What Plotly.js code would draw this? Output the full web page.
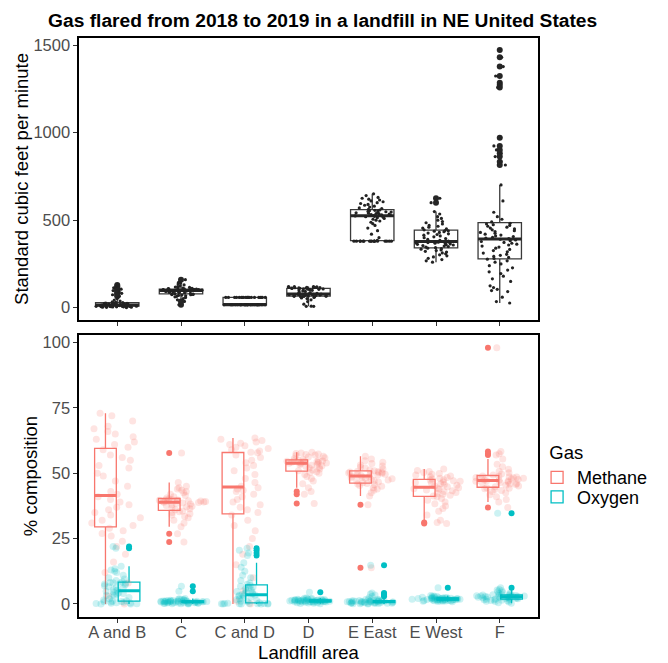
<!DOCTYPE html>
<html><head><meta charset="utf-8">
<script src="https://cdn.plot.ly/plotly-3.0.1.min.js"></script>
<style>html,body{margin:0;padding:0;background:#fff}#chart{width:668px;height:663px}</style>
</head><body><div id="chart"></div>
<script>
const areas = ["A and B","C","C and D","D","E East","E West","F"];

// Standard cubic feet per minute (top panel)
const flowAB = [1,2,3,3,4,4,5,5,6,6,7,7,7,8,8, 9,9,10,10,11,11,12,12,13,13,14,14,15,15,15, 16,17,18,19,20,21,22,23,24,25,25,26,27,27,28, 29,31,34,38,44,52,66,74,82,90,98,106,114,122,130];
const flowC = [17,36,45,52,58,62,65,68,70,72,74,75,76,77,78, 80,82,84,86,88,89,90,91,92,93,94,95,96,97,98, 98,99,99,100,100,101,101,102,102,103,103,104,104,105,106, 107,108,109,110,112,114,116,118,121,125,130,135,140,145,160];
const flowCD = [17,17,17,17,17,17,17,17,17,17,17,17,17,17,17,17,17,17,17,17,17,17,17,17,17,17,17,17, 59,59,59,59,59,59,59,59,59,59,59,59,59,59,59,59,59,59,59,59];
const flowD = [8,8,9,20,35,45,52,56,59,61,62,63,64,65,66, 67,68,69,70,71,72,72,73,74,74,75,76,76,77,78, 80,82,84,87,90,93,96,99,101,103,105,106,107,108,110, 111,112,112,113,114,114,115,116,116,117,118,119,120,121,121];
const flowEE = [380,380,380,380,380,380,380,380,380,380,380,380,380,380,380,380,380, 385,400,420,440,455,470,480,488,495,500,505,510,514,517,520,522,524, 526,528,530,532,534,536,538,540,542,544,546,548,550,552,554,556,558, 562,566,570,575,580,585,590,595,600,605,610,615,620,625,630,640,650];
const flowEW = [260,268,275,282,290,296,302,308,313,318,322,326,330,334,337,340, 343,346,349,352,355,358,360,362,364,366,368,370,372,374,375,376, 380,385,390,395,400,405,410,414,418,422,426,430,434,437,439,441, 445,450,455,460,465,470,478,485,492,500,510,520,535,549,600,625];
const flowF = [27,35,60,92,98,105,115,125,150,165,180,195,205,215,228,240,250,260,268,277, 281,287,293,299,305,312,319,326,333,340,346,352,358,363,368,373,378,383,387,391, 394,398,402,406,410,415,420,425,430,435,440,445,450,455,460,465,470,474,478,482, 490,505,520,545,610,701,815,834,863,882,901,924,971,1258,1271,1285,1323,1377,1430,1471];

// % composition, methane (bottom panel)
const methaneAB = [0,3,8,12,16,19,22,24,26,27,28,29, 30,31,32,33,34,35,36,37,38,39,40,41, 42,43,45,47,49,50,52,53,55,56,57,59, 60,61,62,63,64,65,66,67,68,70,72,73];
const methaneC = [23.7,26.9,29.5,31,32,33,33.5,34,34.5,35,35.3,35.6, 36,36.4,36.8,37.1,37.4,37.7,38,38.2,38.4,38.6,38.8,38.9, 39,39.1,39.2,39.3,39.4,39.5,39.6,39.7,39.8,39.9,40,40.2, 40.5,41,41.5,42,42.5,43,43.5,44,44.5,45,46.5,57.8];
const methaneCD = [0,1,5,10,15,19,22,25,28,30,32,34, 35,36,37,38,39,40,41,42,43,43.5,44,44.5, 45,46.5,48,49.5,51,52,53,54,55,56,57,57.9, 58,58.5,59,59.5,60,60.5,61,61.5,62,62.5,63,63.5];
const methaneD = [38.4,42,43,44.5,46,47,48,48.8,49.5,50,50.3,50.6, 51,51.3,51.6,52,52.3,52.6,52.9,53.1,53.3,53.5,53.7,53.8, 53.9,54,54.1,54.2,54.3,54.4,54.5,54.6,54.7,54.8,54.9,55, 55.3,55.6,55.9,56.2,56.5,56.8,57,57.2,57.4,57.6,57.8,58];
const methaneEE = [13.8,38,41.3,42.5,43.5,44,44.5,45,45.3,45.6,45.9,46.1, 46.4,46.7,47,47.2,47.4,47.7,47.9,48.1,48.3,48.5,48.7,48.9, 49.1,49.3,49.5,49.6,49.8,50,50.1,50.3,50.4,50.5,50.7,50.8, 51,51.3,51.6,52,52.4,52.8,53.2,53.7,54.2,54.8,55.5,56.5];
const methaneEW = [30.8,31.2,32,34,35.5,36.5,37.5,38.3,39,39.7,40.3,41, 41.3,41.6,42,42.3,42.6,43,43.3,43.6,43.9,44.1,44.3,44.5, 44.8,45.1,45.4,45.7,46,46.3,46.5,46.7,46.9,47.1,47.3,47.5, 47.8,48.1,48.4,48.7,49,49.3,49.6,49.9,50.3,50.7,51.1,51.6];
const methaneF = [36.9,39,40,41,41.8,42.5,43,43.4,43.8,44.1,44.3,44.5, 44.8,45.1,45.4,45.7,45.9,46.1,46.3,46.5,46.7,46.9,47,47.1, 47.3,47.4,47.6,47.8,47.9,48.1,48.3,48.4,48.6,48.7,48.9,49, 49.3,49.7,50.2,50.8,51.5,52.5,53.5,55.5,57,57.5,58.3,98];

// % composition, oxygen (bottom panel)
const oxygenAB = [0,0,0.1,0.2,0.3,0.4,0.5,0.6,0.7,0.8,0.9,1.0, 1.2,1.5,2,2.5,3,3.2,3.5,3.8,4,4.3,4.6,4.9, 5.2,5.5,6,6.3,6.6,7,7.3,7.6,7.9,8,8.1,8.2, 8.5,9,9.5,10,11,12,12.5,13,13.5,14.4,21.3,22];
const oxygenC = [0,0.1,0.1,0.2,0.2,0.3,0.3,0.3,0.4,0.4,0.4,0.5, 0.5,0.5,0.6,0.6,0.6,0.7,0.7,0.7,0.7,0.8,0.8,0.8, 0.8,0.9,0.9,0.9,1.0,1.0,1.0,1.0,1.1,1.1,1.1,1.2, 1.2,1.3,1.3,1.4,1.5,1.6,1.7,1.8,2.0,2.1,4.9,6.8];
const oxygenCD = [0,0,0,0,0.1,0.1,0.1,0.2,0.2,0.2,0.2,0.3, 0.5,0.8,1,1.3,1.6,2,2.3,2.6,2.9,3.1,3.3,3.4, 3.6,3.9,4.2,4.5,4.8,5.1,5.4,5.8,6.2,6.5,6.8,7.1, 7.5,8,9,10,11,12.5,14,15.8,18.5,19.5,20.5,21.3];
const oxygenD = [0.1,0.2,0.3,0.4,0.5,0.5,0.6,0.6,0.7,0.7,0.8,0.8, 0.8,0.9,0.9,0.9,1.0,1.0,1.0,1.0,1.1,1.1,1.1,1.1, 1.2,1.2,1.2,1.3,1.3,1.3,1.4,1.4,1.4,1.5,1.5,1.5, 1.6,1.6,1.7,1.7,1.8,1.8,1.9,2.0,2.1,2.2,2.3,4.5];
const oxygenEE = [0,0.1,0.1,0.2,0.2,0.3,0.3,0.3,0.4,0.4,0.4,0.5, 0.5,0.5,0.6,0.6,0.6,0.7,0.7,0.7,0.8,0.8,0.8,0.9, 0.9,0.9,1.0,1.0,1.0,1.1,1.1,1.1,1.2,1.2,1.2,1.3, 1.3,1.4,1.5,1.6,1.7,1.8,2.4,2.9,3.4,3.8,4.2,14.8];
const oxygenEW = [0.8,0.9,1.0,1.0,1.1,1.1,1.2,1.2,1.3,1.3,1.4,1.4, 1.5,1.5,1.5,1.6,1.6,1.6,1.7,1.7,1.7,1.8,1.8,1.8, 1.9,1.9,1.9,2.0,2.0,2.0,2.1,2.1,2.1,2.2,2.2,2.3, 2.3,2.4,2.4,2.5,2.5,2.6,2.7,2.8,2.9,3.0,3.2,6.2];
const oxygenF = [0.3,0.5,0.7,0.9,1.0,1.2,1.3,1.4,1.5,1.6,1.7,1.8, 1.9,2.0,2.1,2.2,2.2,2.3,2.4,2.4,2.5,2.6,2.6,2.7, 2.8,2.8,2.9,2.9,3.0,3.0,3.1,3.1,3.2,3.2,3.3,3.4, 3.5,3.6,3.8,4.0,4.2,4.4,4.7,5.0,5.3,5.5,6.2,34.7];

const flowGroups = [flowAB, flowC, flowCD, flowD, flowEE, flowEW, flowF];
const methaneGroups = [methaneAB, methaneC, methaneCD, methaneD, methaneEE, methaneEW, methaneF];
const oxygenGroups = [oxygenAB, oxygenC, oxygenCD, oxygenD, oxygenEE, oxygenEW, oxygenF];

function flatten(groups) {
  const x = [], y = [];
  groups.forEach((vals, i) => vals.forEach(v => { x.push(areas[i]); y.push(v); }));
  return {x, y};
}
function median(vals) {
  const s = vals.slice().sort((a, b) => a - b);
  const n = s.length, h = Math.floor(n / 2);
  return n % 2 ? s[h] : (s[h - 1] + s[h]) / 2;
}
const flow = flatten(flowGroups);
const meth = flatten(methaneGroups);
const oxy = flatten(oxygenGroups);
const flowMed = flowGroups.map(median);
const methMed = methaneGroups.map(median);
const oxyMed = oxygenGroups.map(median);

const RED = '#F8766D', TEAL = '#00BFC4';
const FONT = '"Liberation Sans", Arial, Helvetica, sans-serif';
const CLEAR = 'rgba(0,0,0,0)';

function boxTrace(d, xa, ya, name, color, lineColor, ag, og, extra) {
  return Object.assign({type:'box', x:d.x, y:d.y, xaxis:xa, yaxis:ya, name:name,
    boxpoints:'outliers', jitter:0, pointpos:0, whiskerwidth:0,
    fillcolor:'white', line:{color:lineColor, width:1.3},
    marker:{color:color, size:6, line:{width:0}},
    alignmentgroup:ag, offsetgroup:og, showlegend:false, hoverinfo:'skip'}, extra || {});
}
function medianTrace(meds, xa, ya, color, ag, og) {
  return {type:'box', x:areas, q1:meds, median:meds, q3:meds, xaxis:xa, yaxis:ya,
    boxpoints:false, whiskerwidth:0, fillcolor:CLEAR, line:{color:color, width:3},
    alignmentgroup:ag, offsetgroup:og, showlegend:false, hoverinfo:'skip'};
}
function pointsTrace(d, xa, ya, color, size, opacity, ag, og, width) {
  const t = {type:'box', x:d.x, y:d.y, xaxis:xa, yaxis:ya,
    boxpoints:'all', jitter:1, pointpos:0, whiskerwidth:0,
    fillcolor:CLEAR, line:{color:CLEAR, width:0},
    marker:{color:color, size:size, opacity:opacity, line:{width:0}},
    alignmentgroup:ag, offsetgroup:og, showlegend:false, hoverinfo:'skip'};
  if (width) t.width = width;
  return t;
}

const traces = [
  boxTrace(flow, 'x', 'y', 'flow', '#262626', '#3a3a3a', 'top', 'f'),
  medianTrace(flowMed, 'x', 'y', '#262626', 'top', 'f'),
  pointsTrace(flow, 'x', 'y', '#222222', 3.2, 1, 'top', 'f'),
  boxTrace(meth, 'x2', 'y2', 'Methane', RED, RED, 'gas', 'm', {showlegend:true, legend:'legend'}),
  boxTrace(oxy, 'x2', 'y2', 'Oxygen', TEAL, TEAL, 'gas', 'o', {showlegend:true, legend:'legend2'}),
  medianTrace(methMed, 'x2', 'y2', RED, 'gas', 'm'),
  medianTrace(oxyMed, 'x2', 'y2', TEAL, 'gas', 'o'),
  pointsTrace(meth, 'x2', 'y2', RED, 7, 0.2, 'pts', 'p', 0.82),
  pointsTrace(oxy, 'x2', 'y2', TEAL, 7, 0.2, 'pts', 'p', 0.82)
];

const axisCommon = {
  showline:true, linecolor:'#000', linewidth:1.6, mirror:true,
  ticks:'outside', ticklen:4, tickwidth:1, tickcolor:'#333',
  showgrid:false, zeroline:false,
  tickfont:{family:FONT, size:16.5, color:'#4D4D4D'}
};
const titleFont = {family:FONT, size:18.5, color:'#000'};

const layout = {
  width:668, height:663,
  margin:{l:79, r:130, t:38, b:46},
  paper_bgcolor:'white', plot_bgcolor:'white',
  font:{family:FONT, color:'#000'},
  boxmode:'group', boxgap:0.26, boxgroupgap:0.08,
  title:{text:'Gas flared from 2018 to 2019 in a landfill in NE United States',
         font:{family:FONT, size:19.2, weight:700, color:'#000'},
         x:0.483, xanchor:'center', xref:'container', y:0.969, yanchor:'middle', yref:'container'},
  xaxis:Object.assign({}, axisCommon, {type:'category', categoryarray:areas, categoryorder:'array',
         range:[-0.6, 6.6], anchor:'y', showticklabels:false, domain:[0,1]}),
  yaxis:Object.assign({}, axisCommon, {domain:[0.513, 1], range:[-70, 1540], anchor:'x',
         tickvals:[0,500,1000,1500],
         title:{text:'Standard cubic feet per minute', font:titleFont, standoff:0}}),
  xaxis2:Object.assign({}, axisCommon, {type:'category', categoryarray:areas, categoryorder:'array',
         range:[-0.6, 6.6], anchor:'y2', domain:[0,1], ticklabelstandoff:-4,
         title:{text:'Landfill area', font:titleFont, standoff:7}}),
  yaxis2:Object.assign({}, axisCommon, {domain:[0, 0.487], range:[-5, 102.9], anchor:'x2',
         tickvals:[0,25,50,75,100],
         title:{text:'% composition', font:titleFont, standoff:0}}),
  legend:{x:0.998, xanchor:'left', y:0.314, yanchor:'top', bgcolor:CLEAR,
          title:{text:'\u00a0\u00a0Gas', font:{family:FONT, size:18.5, color:'#000'}},
          font:{family:FONT, size:18, color:'#000'}},
  legend2:{x:0.998, xanchor:'left', y:0.239, yanchor:'top', bgcolor:CLEAR,
          font:{family:FONT, size:18, color:'#000'}}
};

Plotly.newPlot('chart', traces, layout, {displayModeBar:false, staticPlot:true});
</script>
</body></html>
